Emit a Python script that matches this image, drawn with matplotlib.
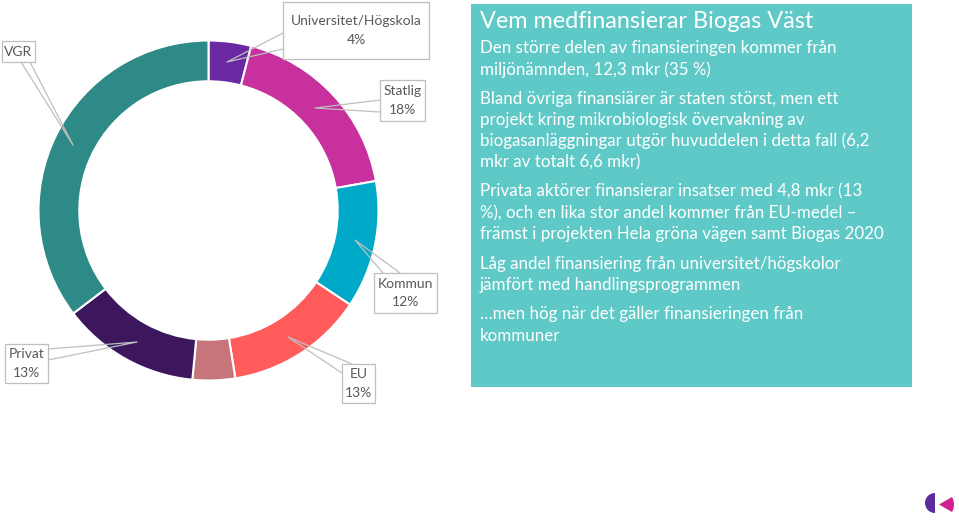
import matplotlib.pyplot as plt
from matplotlib.patches import Rectangle, Wedge

# donut data, clockwise from the top
categories = ['Universitet/Högskola', 'Statlig', 'Kommun', 'EU', '', 'Privat', 'VGR']
shares = [4, 18, 12, 13, 4, 13, 35]
shown = ['4%', '18%', '12%', '13%', '', '13%', '']
colors = ['#6A28A2', '#C8309D', '#00A9C8', '#FF5B5B', '#C7747A', '#3D175E', '#2E8A87']

title = 'Vem medfinansierar Biogas Väst'
body = [
    'Den större delen av finansieringen kommer från',
    'miljönämnden, 12,3 mkr (35 %)',
    None,
    'Bland övriga finansiärer är staten störst, men ett',
    'projekt kring mikrobiologisk övervakning av',
    'biogasanläggningar utgör huvuddelen i detta fall (6,2',
    'mkr av totalt 6,6 mkr)',
    None,
    'Privata aktörer finansierar insatser med 4,8 mkr (13',
    '%), och en lika stor andel kommer från EU-medel –',
    'främst i projekten Hela gröna vägen samt Biogas 2020',
    None,
    'Låg andel finansiering från universitet/högskolor',
    'jämfört med handlingsprogrammen',
    None,
    '…men hög när det gäller finansieringen från',
    'kommuner',
]

plt.rcParams['font.family'] = ['Lato', 'DejaVu Sans']

W, H = 959, 525
fig = plt.figure(figsize=(W / 100, H / 100), dpi=100)

# donut: centre (208.5, 210.5) px, outer radius 170 px
cx, cy, r = 208.5, 210.5, 170
pie_ax = fig.add_axes([(cx - r) / W, (H - cy - r) / H, 2 * r / W, 2 * r / H])
pie_ax.pie(shares, colors=colors, startangle=90, counterclock=False, radius=1,
           wedgeprops=dict(width=0.24, edgecolor='white', linewidth=1.5))
pie_ax.set_xlim(-1, 1)
pie_ax.set_ylim(-1, 1)
pie_ax.axis('off')

# overlay in pixel coordinates
ax = fig.add_axes([0, 0, 1, 1], zorder=5)
ax.set_xlim(0, W)
ax.set_ylim(H, 0)
ax.axis('off')
ax.patch.set_alpha(0)

grey = '#BFBFBF'
txt = '#595959'

def callout(box, base1, base2, tip, lines):
    x0, y0, x1, y1 = box
    ax.plot([base1[0], tip[0], base2[0]], [base1[1], tip[1], base2[1]],
            color=grey, lw=0.9, zorder=2)
    ax.add_patch(Rectangle((x0, y0), x1 - x0, y1 - y0, facecolor='white',
                           edgecolor=grey, lw=0.9, zorder=3))
    xm = (x0 + x1) / 2
    if len(lines) == 1:
        ax.text(xm, (y0 + y1) / 2, lines[0], ha='center', va='center',
                fontsize=10, color=txt, zorder=4)
    else:
        ym = (y0 + y1) / 2
        ax.text(xm, ym - 9.5, lines[0], ha='center', va='center', fontsize=10, color=txt, zorder=4)
        ax.text(xm, ym + 9.5, lines[1], ha='center', va='center', fontsize=10, color=txt, zorder=4)

callout((283, 2, 429, 59), (283, 33), (283, 49), (227, 62), [categories[0], shown[0]])
callout((380, 80, 425, 121), (380, 100), (380, 112), (315, 108), [categories[1], shown[1]])
callout((374, 273, 437, 313), (383, 273), (400, 273), (355, 240), [categories[2], shown[2]])
callout((342, 364, 375, 403), (342, 373), (352, 364), (288, 337), [categories[3], shown[3]])
callout((5, 344, 48, 383), (48, 349), (48, 360), (137, 342), [categories[5], shown[5]])
callout((2, 41, 35, 62), (21, 62), (30, 62), (73, 145), [categories[6]])

# text panel
ax.add_patch(Rectangle((471, 4), 441, 383, facecolor='#5FC9C7', edgecolor='none', zorder=1))
ax.text(480, 21, title, ha='left', va='center', fontsize=16.9, color='white', zorder=4)
y = 48
for line in body:
    if line is None:
        y += 8
        continue
    ax.text(480, y, line, ha='left', va='center', fontsize=12.2, color='white', zorder=4)
    y += 21.3

# logo
ax.add_patch(Wedge((935, 503), 10, 90, 270, facecolor='#5B2A9B', edgecolor='none'))
ax.add_patch(Wedge((939, 504.5), 15, -30, 30, facecolor='#D1208F', edgecolor='none'))

fig.savefig('out.png', dpi=100)
